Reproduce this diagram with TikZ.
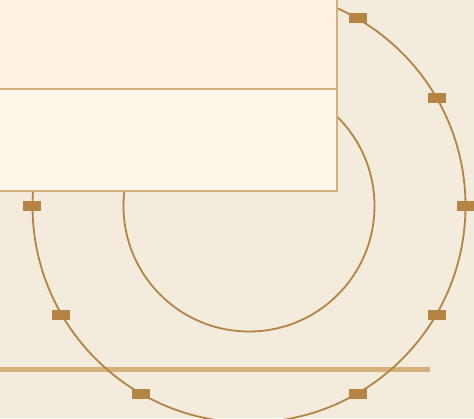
\documentclass[tikz,border=0pt]{standalone}
\usepackage{tikz}
\usetikzlibrary{calc}
\definecolor{paper}{RGB}{243,235,219}
\definecolor{bronze}{RGB}{181,132,66}
\definecolor{sand}{RGB}{212,176,122}
\definecolor{creamtop}{RGB}{255,243,224}
\definecolor{creamlow}{RGB}{255,248,232}

\begin{document}
\begin{tikzpicture}[x=1pt,y=-1pt,
  ring/.style={draw=bronze,line width=1.8pt},
  tick/.style={fill=bronze},
  panel/.style={draw=sand,line width=1.6pt}]
\useasboundingbox (0,0) rectangle (474,418);
\clip (0,0) rectangle (474,418);
\fill[paper] (0,0) rectangle (474,418);
\draw[sand,line width=5pt] (-5,369) -- (430,369);
\coordinate (o) at (249,206);
\draw[ring] (o) circle[radius=216.5];
\draw[ring] (o) circle[radius=125.5];
% ticks on the outer ring (the one at the bottom falls off the page)
\foreach \a in {0,30,60,90,120,150,180,210,240,300,330}
  \fill[tick] ($(o)+(\a:217 and -217)$) ++(-9,-5) rectangle ++(18,10);
\filldraw[panel,fill=creamtop] (-5,-5) rectangle (337,89);
\filldraw[panel,fill=creamlow] (-5,89) rectangle (337,191);
\end{tikzpicture}
\end{document}
